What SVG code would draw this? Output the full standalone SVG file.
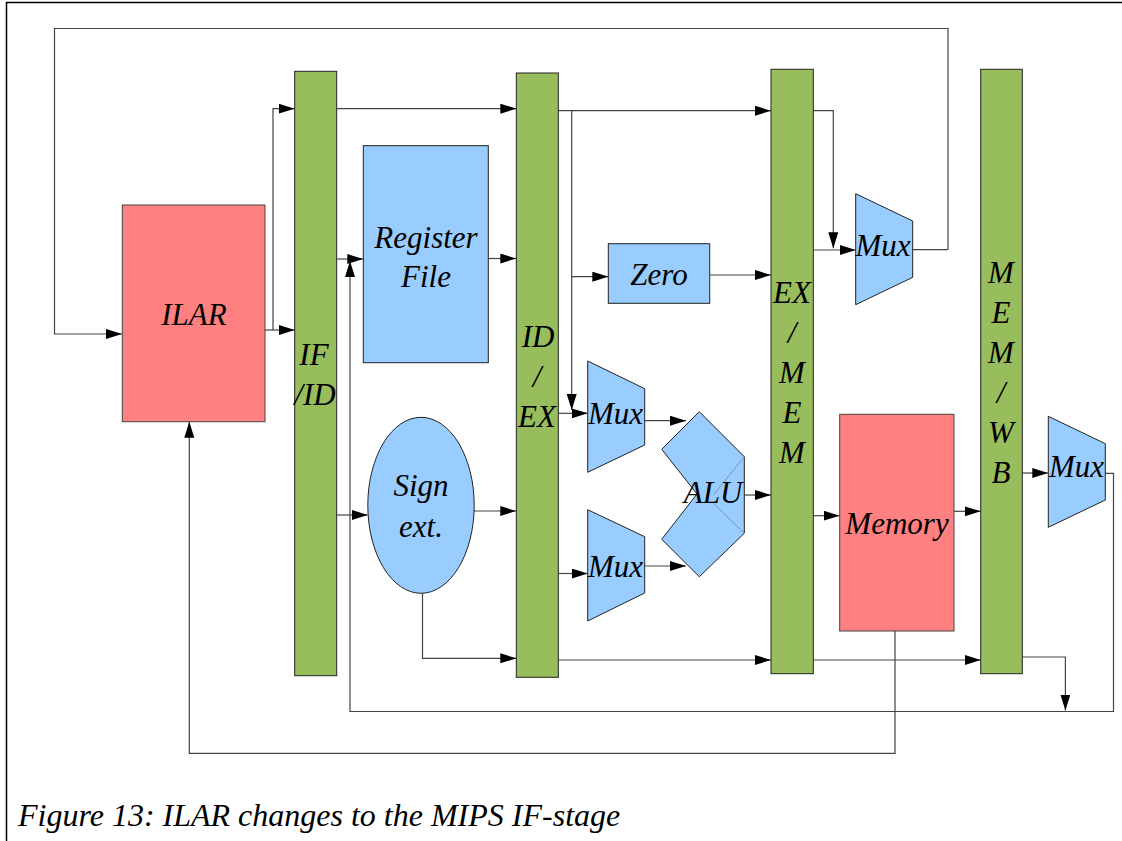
<svg xmlns="http://www.w3.org/2000/svg" width="1122" height="841" viewBox="0 0 1122 841">
<defs>
<marker id="ah" markerUnits="userSpaceOnUse" markerWidth="16" markerHeight="12" refX="16" refY="5" orient="auto">
<path d="M0,0 L16,5 L0,10 z" fill="#000"/>
</marker>
<style>
.t{font-family:"Liberation Serif","Times New Roman",serif;font-style:italic;font-size:31px;fill:#000;text-anchor:middle}
.bar{fill:#97bd5d;stroke:#222;stroke-width:1}
.blue{fill:#99ccff;stroke:#222;stroke-width:1}
.red{fill:#ff8080;stroke:#444;stroke-width:1}
.c{fill:none;stroke:#444;stroke-width:1.2}
.ca{fill:none;stroke:#444;stroke-width:1.2;marker-end:url(#ah)}
</style>
</defs>
<rect x="0" y="0" width="1122" height="841" fill="#fff"/>
<path d="M6.5,841 V2.5 H1122" fill="none" stroke="#000" stroke-width="1.5"/>

<g id="connectors">
<path class="ca" d="M948,249.7 V28.5 H54.5 V334 H122"/>
<path class="ca" d="M265,330 H294.7"/>
<path class="ca" d="M273,330 V108.7 H294.7"/>
<path class="ca" d="M336.7,108.7 H516.3"/>
<path class="ca" d="M336.7,259 H363.3"/>
<path class="ca" d="M336.7,515 H367.7"/>
<path class="ca" d="M488.3,258.5 H516.3"/>
<path class="ca" d="M474,511 H516.3"/>
<path class="ca" d="M422.5,593.3 V658.3 H516.3"/>
<path class="ca" d="M558.3,110.7 H771"/>
<path class="ca" d="M571.7,110.7 V410"/>
<path class="ca" d="M571.7,276.7 H608.3"/>
<path class="ca" d="M558.3,413.3 H587.7"/>
<path class="ca" d="M558.3,573.5 H587.7"/>
<path class="ca" d="M709.7,275 H771"/>
<path class="ca" d="M644.7,420.7 H686"/>
<path class="ca" d="M644.7,566 H686"/>
<path class="ca" d="M744.3,495 H771"/>
<path class="ca" d="M558.3,660 H771"/>
<path class="ca" d="M813.3,110.7 H833.3 V248.3"/>
<path class="ca" d="M813.3,250 H855.7"/>
<path class="c" d="M912.7,249.7 H948"/>
<path class="ca" d="M813.3,515.7 H839.7"/>
<path class="ca" d="M954,511.3 H980.7"/>
<path class="ca" d="M813.3,660 H980.7"/>
<path class="ca" d="M1022.3,473 H1048.3"/>
<path class="ca" d="M1105.3,473.3 H1113.5 V711.5 H350 V261"/>
<path class="ca" d="M1022.3,657 H1065.4 V710.5"/>
<path class="ca" d="M895,631 V753.3 H189.3 V421.7"/>
</g>

<g id="ilar">
<rect class="red" x="122.3" y="205" width="142.7" height="216.7"/>
<text class="t" x="194" y="325">ILAR</text>
</g>

<g id="if-id">
<rect class="bar" x="294.7" y="71.3" width="42" height="604.4"/>
<text class="t" x="314" y="365">IF</text>
<text class="t" x="315" y="405">/ID</text>
</g>

<g id="register-file">
<rect class="blue" x="363.3" y="145.7" width="125" height="217"/>
<text class="t" x="426" y="248">Register</text>
<text class="t" x="426" y="287">File</text>
</g>

<g id="sign-ext">
<ellipse class="blue" cx="421" cy="505.3" rx="53.2" ry="88"/>
<text class="t" x="421" y="496">Sign</text>
<text class="t" x="421" y="537">ext.</text>
</g>

<g id="id-ex">
<rect class="bar" x="516.3" y="73" width="42" height="604.3"/>
<text class="t" x="538" y="347">ID</text>
<text class="t" x="537" y="387">/</text>
<text class="t" x="537" y="427">EX</text>
</g>

<g id="zero">
<rect class="blue" x="608.3" y="243.7" width="101.4" height="59.6"/>
<text class="t" x="659" y="285">Zero</text>
</g>

<g id="mux1">
<polygon class="blue" points="587.7,361 644.7,388.7 644.7,445 587.7,472.3"/>
<text class="t" x="615.5" y="424">Mux</text>
</g>

<g id="mux2">
<polygon class="blue" points="587.7,509.7 644.7,536.7 644.7,593 587.7,621"/>
<text class="t" x="615.5" y="577">Mux</text>
</g>

<g id="alu">
<polygon class="blue" points="699.3,411.7 744.3,456.7 744.3,533.3 699.3,576.7 661.7,539.3 697,494 661.7,449.3"/>
<path d="M744.3,456.7 L713.3,495 M713.3,503 L744.3,533.3" fill="none" stroke="#6a8aa8" stroke-width="0.8"/>
<text class="t" x="713" y="503">ALU</text>
</g>

<g id="ex-mem">
<rect class="bar" x="771" y="69.3" width="42.3" height="604.4"/>
<text class="t" x="792" y="303">EX</text>
<text class="t" x="792" y="343">/</text>
<text class="t" x="792" y="383">M</text>
<text class="t" x="792" y="423">E</text>
<text class="t" x="792" y="463">M</text>
</g>

<g id="mux3">
<polygon class="blue" points="855.7,193.7 912.7,221 912.7,277.3 855.7,304.7"/>
<text class="t" x="883" y="256">Mux</text>
</g>

<g id="memory">
<rect class="red" x="839.7" y="414.3" width="114.3" height="216.7"/>
<text class="t" x="897" y="534">Memory</text>
</g>

<g id="mem-wb">
<rect class="bar" x="980.7" y="69.3" width="41.6" height="604.4"/>
<text class="t" x="1001" y="283">M</text>
<text class="t" x="1001" y="323">E</text>
<text class="t" x="1001" y="363">M</text>
<text class="t" x="1001" y="403">/</text>
<text class="t" x="1001" y="443">W</text>
<text class="t" x="1001" y="483">B</text>
</g>

<g id="mux4">
<polygon class="blue" points="1048.3,416.3 1105.3,443.7 1105.3,500 1048.3,527.3"/>
<text class="t" x="1076.5" y="477">Mux</text>
</g>

<text x="18" y="826" style="font-family:'Liberation Serif','Times New Roman',serif;font-style:italic;font-size:32px;fill:#000">Figure 13: ILAR changes to the MIPS IF-stage</text>
</svg>
